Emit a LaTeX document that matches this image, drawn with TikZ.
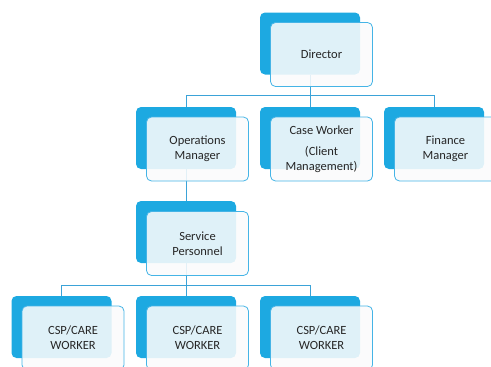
\documentclass[tikz,border=0pt]{standalone}
\usepackage{fontspec}
\setmainfont{Carlito}
\definecolor{cardblue}{HTML}{1DA9E1}
\definecolor{edgeblue}{HTML}{45B4E6}
\definecolor{cardfill}{HTML}{FAFBFC}
\definecolor{lineblue}{HTML}{3BA3D8}
\definecolor{textgray}{HTML}{262626}
\begin{document}
\begin{tikzpicture}[x=1pt,y=-1pt,
  back/.style={fill=cardblue, rounded corners=5pt, minimum width=100pt,
    minimum height=62pt, inner sep=0pt},
  card/.style={draw=edgeblue, line width=0.8pt, fill=cardfill, fill opacity=0.88,
    text opacity=1, rounded corners=5pt, minimum width=102pt, minimum height=64pt,
    inner sep=0pt, align=center, text=textgray,
    font=\fontsize{12.5}{15}\selectfont},
  conn/.style={draw=lineblue, line width=0.9pt}]
\clip (0,0) rectangle (491,367);

% solid backing tiles
\node[back] (dirB)  at (310,43.5) {};
\node[back] (opsB)  at (186,138) {};
\node[back] (caseB) at (310,138) {};
\node[back] (finB)  at (434,138) {};
\node[back] (srvB)  at (186,232) {};
\node[back] (cspaB) at (61.5,327) {};
\node[back] (cspbB) at (186,327) {};
\node[back] (cspcB) at (310,327) {};

% reporting lines
\draw[conn] (dirB.south) -- ++(0,21) coordinate (bus1);
\draw[conn] (opsB.north) |- (bus1) -| (finB.north);
\draw[conn] (bus1) -- (caseB.north);
\draw[conn] (opsB.south) -- (srvB.north);
\draw[conn] (srvB.south) -- ++(0,22) coordinate (bus2);
\draw[conn] (cspaB.north) |- (bus2) -| (cspcB.north);
\draw[conn] (bus2) -- (cspbB.north);

% translucent front cards with titles
\node[card] (dir)  at (321.5,54.5) {Director};
\node[card] (ops)  at (197.5,149) {Operations\\Manager};
\node[card] (case) at (321.5,149) {Case Worker\\[6pt](Client\\Management)};
\node[card] (fin)  at (445.5,149) {Finance\\Manager};
\node[card] (srv)  at (197.5,243.5) {Service\\Personnel};
\node[card] (cspa) at (73,338) {CSP/CARE\\WORKER};
\node[card] (cspb) at (197.5,338) {CSP/CARE\\WORKER};
\node[card] (cspc) at (321.5,338) {CSP/CARE\\WORKER};
\end{tikzpicture}
\end{document}
